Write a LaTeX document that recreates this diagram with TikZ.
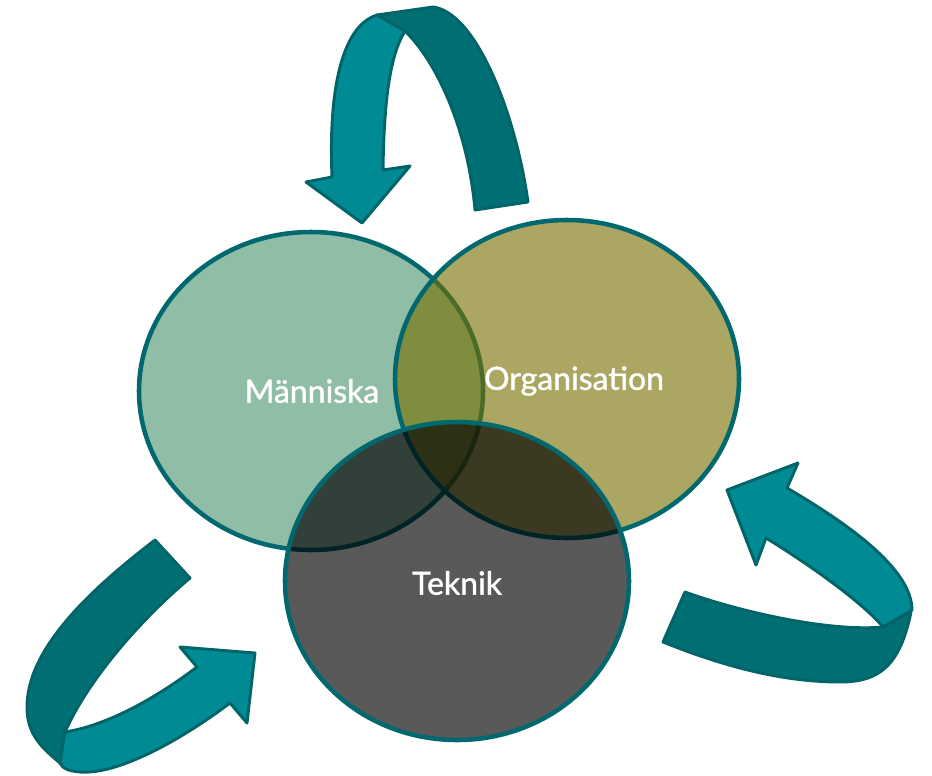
\documentclass[tikz,border=0pt]{standalone}
\usepackage{fontspec}
\setmainfont{Lato}
\newfontfamily\setfont{Lato}[FakeBold=1.2]
\usetikzlibrary{shapes.geometric}
\definecolor{ringline}{RGB}{0,104,110}
\definecolor{humanfill}{RGB}{143,189,166}
\definecolor{orgfill}{RGB}{120,112,0}
\definecolor{arrowfront}{RGB}{0,139,148}
\definecolor{arrowback}{RGB}{0,111,116}
\definecolor{arrowline}{RGB}{0,100,105}
\tikzstyle{set} = [ellipse, draw=ringline, line width=3.4pt, minimum width=258pt, minimum height=238.5pt, inner sep=0pt]
\tikzstyle{human} = [set, fill=humanfill]
\tikzstyle{org} = [set, fill=orgfill, fill opacity=0.62]
\tikzstyle{tech} = [set, fill=black, fill opacity=0.65]
\tikzstyle{setlabel} = [text=white, inner sep=0pt, font=\setfont\fontsize{24}{28}\selectfont]
\tikzstyle{front} = [fill=arrowfront, draw=arrowline, line width=2.2pt, line join=round]
\tikzstyle{back} = [fill=arrowback, draw=arrowline, line width=2.2pt, line join=round]

\begin{document}
\begin{tikzpicture}[x=0.75pt, y=-0.75pt]
    \useasboundingbox (0,0) rectangle (932,775);

    % Arrows.
    \draw [back] (377,15) -- (433,7) .. controls (475,12) and (515,110) .. (528,202)
        -- (475,210) .. controls (468,130) and (437,62) .. (405,31) -- cycle;
    \draw [front] (332,177) .. controls (328,80) and (345,25) .. (377,15) -- (405,31)
        .. controls (390,55) and (384,100) .. (383,170) -- (410,166) -- (362,223) -- (306,182) -- cycle;

    \draw [back] (685,592) .. controls (740,612) and (830,632) .. (883,627) -- (911,612)
        .. controls (900,665) and (880,682) .. (840,682) .. controls (780,682) and (720,665) .. (663,642) -- cycle;
    \draw [front] (787,488) .. controls (845,522) and (912,568) .. (912,610) -- (883,627)
        .. controls (865,605) and (815,568) .. (766,538) -- (756,565) -- (727,490) -- (798,463) -- cycle;

    \draw [back] (155,540) -- (190,578) .. controls (140,620) and (88,680) .. (65,732) -- (60,763)
        .. controls (42,748) and (28,735) .. (27,710) .. controls (25,650) and (90,590) .. cycle;
    \draw [front] (65,732) .. controls (110,725) and (160,695) .. (197,667) -- (180,647) -- (255,653)
        -- (247,723) -- (230,703) .. controls (185,737) and (120,775) .. (80,772)
        .. controls (68,771) and (62,768) .. (60,763) -- cycle;

    % Sets.
    \node (manniska) [human] at (311,391) {};
    \node (organisation) [org] at (567,379) {};
    \node (teknik) [tech] at (457,581) {};

    % Labels.
    \node (manniskalabel) [setlabel] at (312,391) {Människa};
    \node (organisationlabel) [setlabel] at (574,381) {Organisation};
    \node (tekniklabel) [setlabel] at (457,583) {Teknik};
\end{tikzpicture}
\end{document}
